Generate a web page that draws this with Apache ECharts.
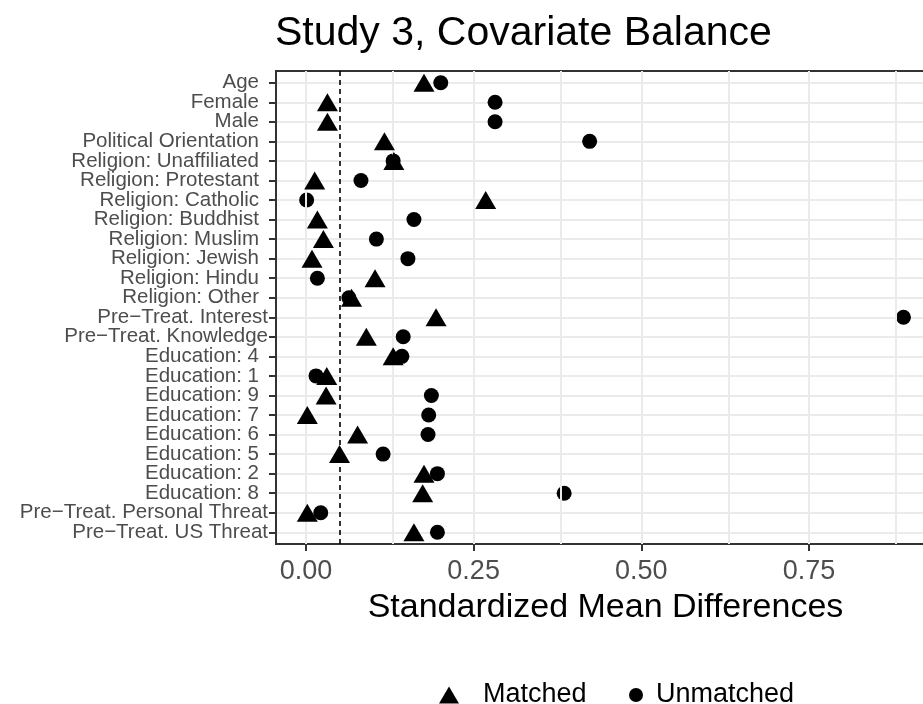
<!DOCTYPE html>
<html>
<head>
<meta charset="utf-8">
<script src="https://cdn.jsdelivr.net/npm/echarts@6/dist/echarts.min.js"></script>
<style>
html,body{margin:0;padding:0;background:#fff;}
#main{width:923px;height:704px;}
</style>
</head>
<body>
<div id="main"></div>
<script>
var categories = [
  "Age", "Female", "Male", "Political Orientation", "Religion: Unaffiliated",
  "Religion: Protestant", "Religion: Catholic", "Religion: Buddhist", "Religion: Muslim",
  "Religion: Jewish", "Religion: Hindu", "Religion: Other", "Pre\u2212Treat. Interest",
  "Pre\u2212Treat. Knowledge", "Education: 4", "Education: 1", "Education: 9", "Education: 7",
  "Education: 6", "Education: 5", "Education: 2", "Education: 8",
  "Pre\u2212Treat. Personal Threat", "Pre\u2212Treat. US Threat"
];
var matched = [0.176, 0.032, 0.032, 0.117, 0.131, 0.013, 0.268, 0.017, 0.026, 0.009, 0.103, 0.068,
               0.194, 0.090, 0.130, 0.031, 0.030, 0.002, 0.077, 0.050, 0.176, 0.174, 0.002, 0.161];
var unmatched = [0.201, 0.282, 0.282, 0.423, 0.130, 0.082, 0.001, 0.161, 0.105, 0.152, 0.017, 0.064,
                 0.891, 0.145, 0.143, 0.015, 0.187, 0.183, 0.182, 0.115, 0.196, 0.385, 0.022, 0.196];
var xTicks = [0, 0.25, 0.5, 0.75];
var xMinorGrid = [0.125, 0.375, 0.625, 0.875];
var threshold = 0.05;

var Y_MIN = -0.6, Y_MAX = categories.length - 1 + 0.6;
var idx = categories.map(function (c, i) { return i; });
var labelValues = [Y_MIN].concat(idx).concat([Y_MAX]);
function pairs(arr) { return arr.map(function (v, i) { return [v, i]; }); }

var chart = echarts.init(document.getElementById('main'));
var FONT = 'Liberation Sans, Arial, sans-serif';

var gridLines = xTicks.concat(xMinorGrid).map(function (v) { return { xAxis: v }; });

var option = {
  animation: false,
  backgroundColor: '#ffffff',
  textStyle: { fontFamily: FONT },
  title: {
    text: 'Study 3, Covariate Balance',
    left: 270,
    top: 8,
    textStyle: { fontSize: 41, fontWeight: 'normal', color: '#000', fontFamily: FONT }
  },
  legend: [
    {
      data: [{ name: 'Matched', icon: 'path://M10,0 L20,17 L0,17 Z' }],
      left: 434, top: 675,
      itemWidth: 58, itemHeight: 17,
      symbolKeepAspect: true,
      itemStyle: { opacity: 1 },
      textStyle: { fontSize: 27, color: '#000', fontFamily: FONT, lineHeight: 30 }
    },
    {
      data: [{ name: 'Unmatched', icon: 'circle' }],
      left: 624, top: 675,
      itemWidth: 30, itemHeight: 14,
      symbolKeepAspect: true,
      itemStyle: { opacity: 1 },
      textStyle: { fontSize: 27, color: '#000', fontFamily: FONT, lineHeight: 30 }
    }
  ],
  grid: {
    left: 276, width: 659, top: 71, height: 473,
    outerBoundsMode: 'none',
    containLabel: false,
    show: true, borderColor: '#333333', borderWidth: 2, backgroundColor: 'transparent'
  },
  xAxis: {
    type: 'value',
    min: -0.0447, max: 0.938,
    axisLine: { show: true, onZero: false, lineStyle: { color: '#333333', width: 2 } },
    axisTick: { show: true, customValues: xTicks, length: 7, lineStyle: { color: '#333333', width: 2 } },
    axisLabel: {
      customValues: xTicks,
      formatter: function (v) { return v.toFixed(2); },
      fontSize: 27, color: '#4d4d4d', margin: 14, fontFamily: FONT
    },
    splitLine: { show: false },
    name: 'Standardized Mean Differences',
    nameLocation: 'middle',
    nameGap: 47,
    nameTextStyle: { fontSize: 34, color: '#000', fontFamily: FONT }
  },
  yAxis: {
    type: 'value',
    min: Y_MIN, max: Y_MAX,
    inverse: true,
    axisLine: { show: true, onZero: false, lineStyle: { color: '#333333', width: 2 } },
    axisTick: { show: true, customValues: idx, length: 7, lineStyle: { color: '#333333', width: 2 } },
    axisLabel: {
      customValues: labelValues,
      showMinLabel: false,
      showMaxLabel: false,
      hideOverlap: false,
      margin: 8,
      formatter: function (v) {
        var t = categories[v];
        if (t === undefined) { return ''; }
        return t.indexOf('Treat') >= 0 ? '{b|' + t + '}' : '{a|' + t + '}';
      },
      rich: {
        a: { fontSize: 20.5, color: '#4d4d4d', fontFamily: FONT, padding: [0, 9, 0, 0] },
        b: { fontSize: 20.5, color: '#4d4d4d', fontFamily: FONT }
      }
    },
    splitLine: { show: true, lineStyle: { color: '#ebebeb', width: 2 } }
  },
  series: [
    {
      name: 'grid',
      type: 'scatter',
      data: [],
      z: 1,
      silent: true,
      markLine: {
        silent: true,
        symbol: 'none',
        label: { show: false },
        lineStyle: { color: '#ebebeb', width: 2, type: 'solid' },
        data: gridLines
      }
    },
    {
      name: 'vline',
      type: 'scatter',
      data: [],
      z: 3,
      silent: true,
      markLine: {
        silent: true,
        symbol: 'none',
        label: { show: false },
        lineStyle: { color: '#000', width: 1.6, type: [5, 4] },
        data: [{ xAxis: threshold }]
      }
    },
    {
      name: 'Matched',
      type: 'scatter',
      symbol: 'path://M10,0 L20,17 L0,17 Z',
      symbolSize: [21, 18],
      itemStyle: { color: '#000', opacity: 1 },
      data: pairs(matched),
      z: 5,
      clip: false
    },
    {
      name: 'Unmatched',
      type: 'scatter',
      symbol: 'circle',
      symbolSize: 15,
      itemStyle: { color: '#000', opacity: 1 },
      data: pairs(unmatched),
      z: 4,
      clip: false
    }
  ]
};
chart.setOption(option);
</script>
</body>
</html>
